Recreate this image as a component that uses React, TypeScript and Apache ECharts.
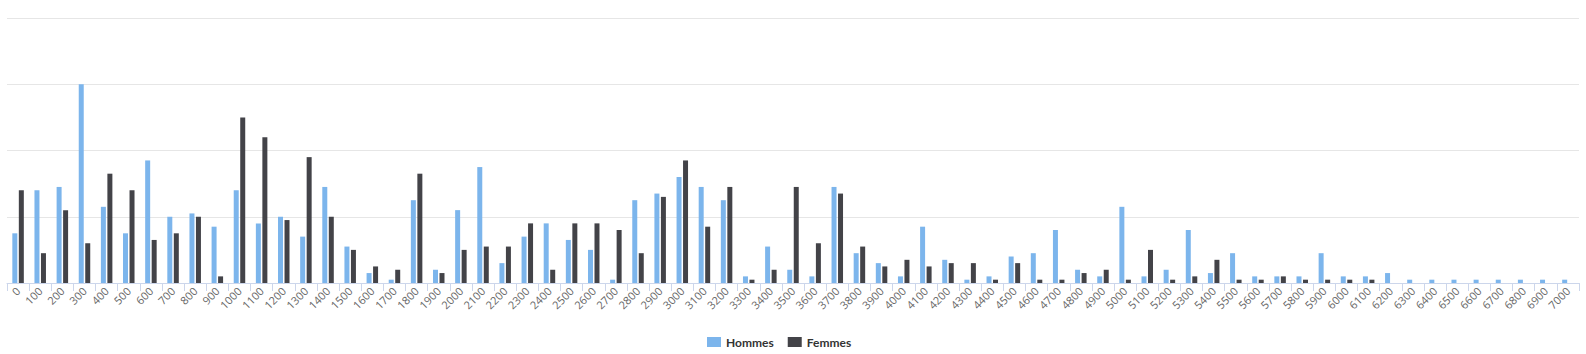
import React, { useEffect, useRef } from "react";
import * as echarts from "echarts";

const categories: string[] = [];
for (let c = 0; c <= 7000; c += 100) categories.push(String(c));

const hommes = [
  15, 28, 29, 60, 23, 15, 37, 20, 21, 17,
  28, 18, 20, 14, 29, 11, 3, 1, 25, 4,
  22, 35, 6, 14, 18, 13, 10, 1, 25, 27,
  32, 29, 25, 2, 11, 4, 2, 29, 9, 6,
  2, 17, 7, 1, 2, 8, 9, 16, 4, 2,
  23, 2, 4, 16, 3, 9, 2, 2, 2, 9,
  2, 2, 3, 1, 1, 1, 1, 1, 1, 1,
  1,
];

const femmes = [
  28, 9, 22, 12, 33, 28, 13, 15, 20, 2,
  50, 44, 19, 38, 20, 10, 5, 4, 33, 3,
  10, 11, 11, 18, 4, 18, 18, 16, 9, 26,
  37, 17, 29, 1, 4, 29, 12, 27, 11, 5,
  7, 5, 6, 6, 1, 6, 1, 1, 3, 4,
  1, 10, 1, 2, 7, 1, 1, 2, 1, 1,
  1, 1, 0, 0, 0, 0, 0, 0, 0, 0,
  0,
];

const seriesNames = ["Hommes", "Femmes"];
const seriesColors = ["#7cb5ec", "#434348"];

export default function App() {
  const ref = useRef<HTMLDivElement>(null);
  useEffect(() => {
    document.body.style.margin = "0";
    if (!ref.current) return;
    const chart = echarts.init(ref.current, null, { renderer: "svg" });
    const font = "'Open Sans', 'DejaVu Sans', sans-serif";
    chart.setOption({
      animation: false,
      textStyle: { fontFamily: font },
      grid: { left: 7, right: 7, top: 18, bottom: 71, containLabel: false },
      legend: {
        left: 702,
        top: 331,
        itemWidth: 14,
        itemHeight: 10,
        itemGap: 14,
        icon: "rect",
        data: seriesNames,
        textStyle: { fontFamily: "Lato, 'Open Sans', sans-serif", fontSize: 12, fontWeight: "bold", color: "#333333" },
      },
      xAxis: {
        type: "category",
        data: categories,
        boundaryGap: true,
        axisLine: { lineStyle: { color: "#ccd6eb" } },
        axisTick: { show: true, length: 8, lineStyle: { color: "#ccd6eb" }, alignWithLabel: false },
        axisLabel: {
          interval: 0,
          rotate: 45,
          margin: 6,
          fontSize: 11,
          color: "#666666",
          fontFamily: font,
        },
      },
      yAxis: {
        type: "value",
        min: 0,
        max: 80,
        interval: 20,
        axisLabel: { show: false },
        axisLine: { show: false },
        axisTick: { show: false },
        splitLine: { lineStyle: { color: "#e6e6e6" } },
      },
      series: [
        {
          name: seriesNames[0],
          type: "bar",
          data: hommes,
          barWidth: 5,
          barGap: "30%",
          itemStyle: { color: seriesColors[0] },
        },
        {
          name: seriesNames[1],
          type: "bar",
          data: femmes,
          barWidth: 5,
          barGap: "30%",
          itemStyle: { color: seriesColors[1] },
        },
      ],
    });
    return () => chart.dispose();
  }, []);
  return <div ref={ref} style={{ width: 1586, height: 354 }} />;
}
